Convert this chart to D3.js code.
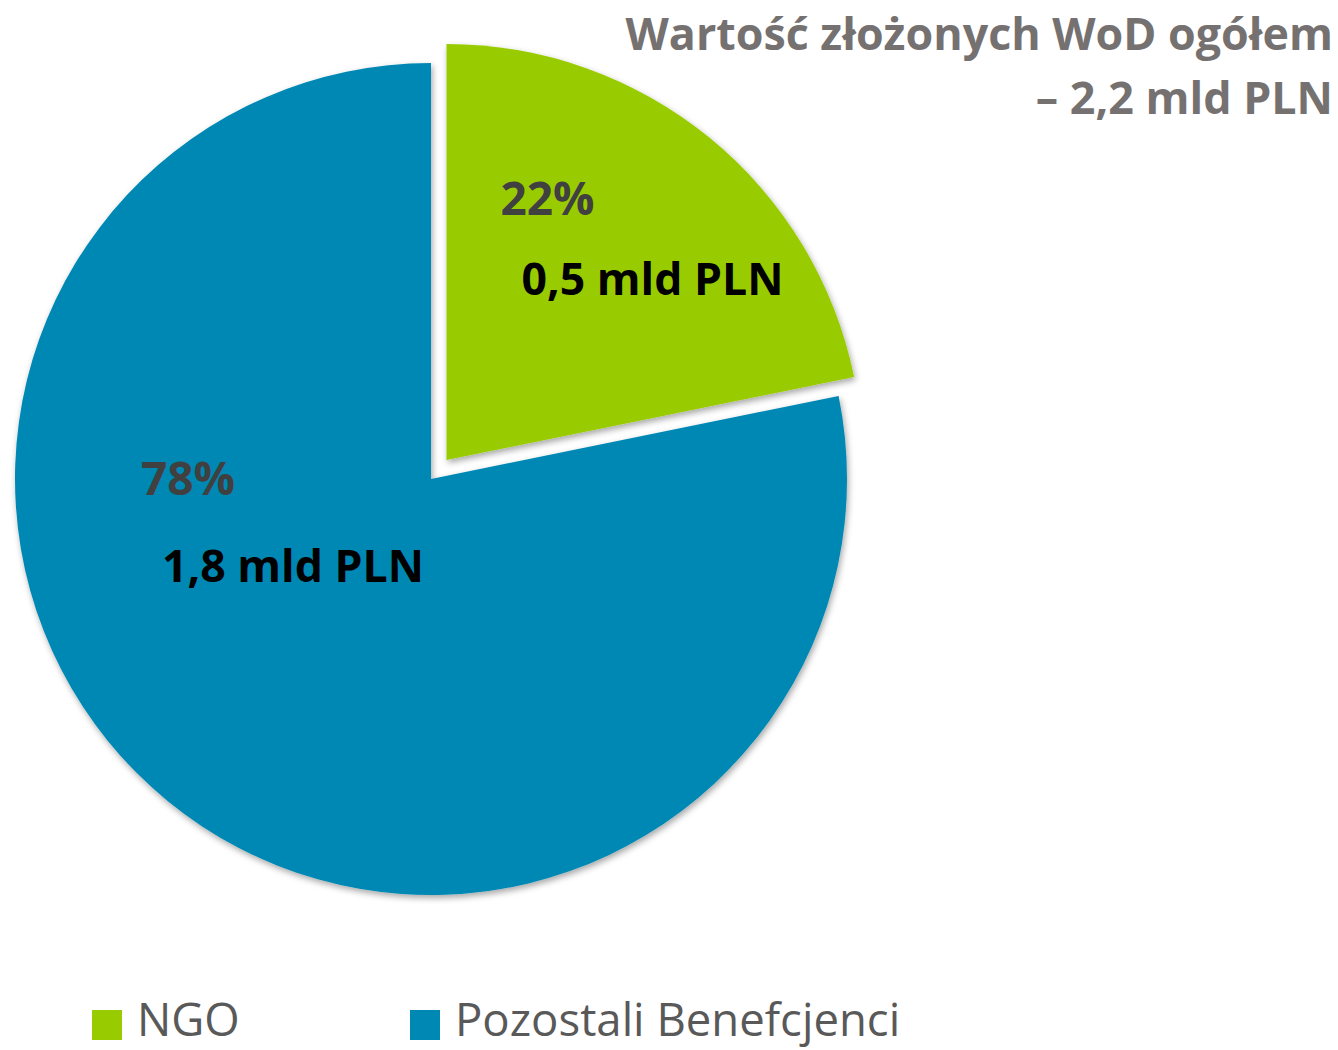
<!DOCTYPE html>
<html>
<head>
<meta charset="utf-8">
<script src="https://cdn.jsdelivr.net/npm/d3@7"></script>
<style>
  html, body { margin: 0; padding: 0; background: #ffffff; }
  svg { display: block; }
</style>
</head>
<body>
<div id="chart"></div>
<script>
const categories = ["NGO", "Pozostali Benefcjenci"];
const shares = [21.8, 78.2];
const shareLabels = ["22%", "78%"];
const amountLabels = ["0,5 mld PLN", "1,8 mld PLN"];
const titleLines = ["Wartość złożonych WoD ogółem", "– 2,2 mld PLN"];

const width = 1338;
const height = 1050;
const cx = 431;
const cy = 479;
const radius = 416;
const explode = 24.5;

const color = d3.scaleOrdinal().domain(categories).range(["#99cc00", "#0088b4"]);

const svg = d3
  .select("#chart")
  .append("svg")
  .attr("width", width)
  .attr("height", height)
  .style("font-family", "'Open Sans', 'Noto Sans', sans-serif");

// soft shadow under the slices
const filter = svg
  .append("defs")
  .append("filter")
  .attr("id", "shadow")
  .attr("x", "-10%")
  .attr("y", "-10%")
  .attr("width", "120%")
  .attr("height", "120%");
filter
  .append("feDropShadow")
  .attr("dx", 1.5)
  .attr("dy", 3)
  .attr("stdDeviation", 3)
  .attr("flood-color", "#000")
  .attr("flood-opacity", 0.35);

const pie = d3.pie().sort(null).value(function (d) { return d; });
const arcs = pie(shares);
const arc = d3.arc().innerRadius(0).outerRadius(radius);

function offset(d, i) {
  if (i !== 0) return [0, 0];
  const mid = (d.startAngle + d.endAngle) / 2;
  return [Math.sin(mid) * explode, -Math.cos(mid) * explode];
}

const g = svg.append("g").attr("transform", "translate(" + cx + "," + cy + ")");

// blue first, green on top
const order = [1, 0];
order.forEach(function (i) {
  const d = arcs[i];
  const o = offset(d, i);
  g.append("path")
    .attr("d", arc(d))
    .attr("transform", "translate(" + o[0] + "," + o[1] + ")")
    .attr("fill", color(categories[i]))
    .attr("filter", "url(#shadow)");
});

// slice labels (positions relative to the slice apex)
const labelPos = [
  { pct: [54, -245], amt: [75, -165] },
  { pct: [-290, 16], amt: [-269, 103] }
];

arcs.forEach(function (d, i) {
  const o = offset(d, i);
  const lp = labelPos[i];
  g.append("text")
    .attr("x", o[0] + lp.pct[0])
    .attr("y", o[1] + lp.pct[1])
    .attr("font-size", 46)
    .attr("font-weight", 700)
    .attr("fill", "#404040")
    .text(shareLabels[i]);
  g.append("text")
    .attr("x", o[0] + lp.amt[0])
    .attr("y", o[1] + lp.amt[1])
    .attr("font-size", 44.6)
    .attr("font-weight", 700)
    .attr("fill", "#000000")
    .text(amountLabels[i]);
});

// title
const title = svg
  .append("text")
  .attr("text-anchor", "end")
  .attr("font-size", 44.8)
  .attr("font-weight", 700)
  .attr("fill", "#767171");
titleLines.forEach(function (line, i) {
  title
    .append("tspan")
    .attr("x", 1333)
    .attr("y", 50 + i * 64)
    .text(line);
});

// legend
const legendX = d3.scaleOrdinal().domain(categories).range([92, 410]);
const legend = svg
  .selectAll(".legend")
  .data(categories)
  .enter()
  .append("g")
  .attr("class", "legend")
  .attr("transform", function (d) {
    return "translate(" + legendX(d) + ",1010)";
  });

legend
  .append("rect")
  .attr("width", 30)
  .attr("height", 30)
  .attr("fill", function (d) { return color(d); });

legend
  .append("text")
  .attr("x", 45)
  .attr("y", 26)
  .attr("font-size", 45.5)
  .attr("fill", "#595959")
  .text(function (d) { return d; });
</script>
</body>
</html>
